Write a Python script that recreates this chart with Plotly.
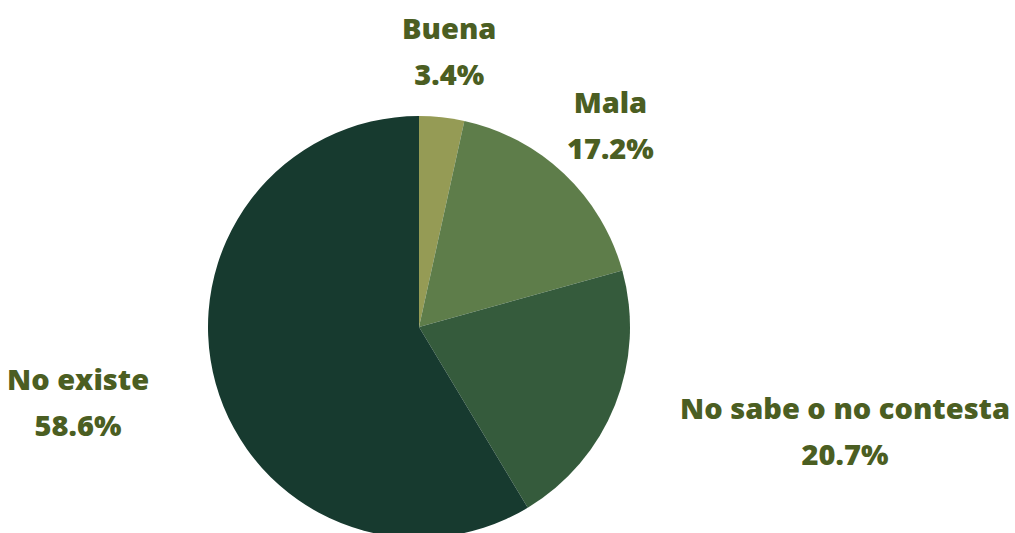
import math
import plotly.graph_objects as go

# Data
categories = ["Buena", "Mala", "No sabe o no contesta", "No existe"]
counts = [1, 5, 6, 17]
colors = ["#959B55", "#5E7D4A", "#355B3C", "#173A2F"]

W, H = 1015, 538          # slightly taller than the window: pie bottom is cut off
TOP = 116
cx_px = 419
R = (H - TOP) / 2
cy_px = TOP + R
LABEL_R = 1.32 * R

total = sum(counts)
pcts = [c / total * 100 for c in counts]

fig = go.Figure(go.Pie(
    labels=categories, values=counts, sort=False, direction="clockwise", rotation=0,
    marker=dict(colors=colors, line=dict(width=0)),
    textinfo="none", hoverinfo="label+percent", showlegend=False,
    domain=dict(x=[0, 2 * cx_px / W], y=[0, 1 - TOP / H]),
))

text_color = "#4B5E22"
cum = 0
for name, p in zip(categories, pcts):
    mid = (cum + p / 2) / 100 * 2 * math.pi
    cum += p
    s, c = math.sin(mid), math.cos(mid)
    lx = cx_px + LABEL_R * s
    ly = cy_px - LABEL_R * c
    if s > 0.8:
        xa = "left"
    elif s < -0.8:
        xa = "right"
    else:
        xa = "center"
    txt = (f"<span style='font-size:29px'>{name}</span><br>"
           f"<span style='font-size:29px'>{p:.1f}%</span>")
    fig.add_annotation(x=lx / W, y=1 - ly / H, xref="paper", yref="paper",
                       text=txt, showarrow=False, xanchor=xa, yanchor="middle",
                       align="center",
                       font=dict(family="Open Sans", size=35, color=text_color, weight=800))

fig.update_layout(width=W, height=H, margin=dict(l=0, r=0, t=0, b=0),
                  paper_bgcolor="white", plot_bgcolor="white")
fig.write_html("out.html", config={"displayModeBar": False},
               post_script="document.body.style.margin='0';document.body.style.overflow='hidden';")
